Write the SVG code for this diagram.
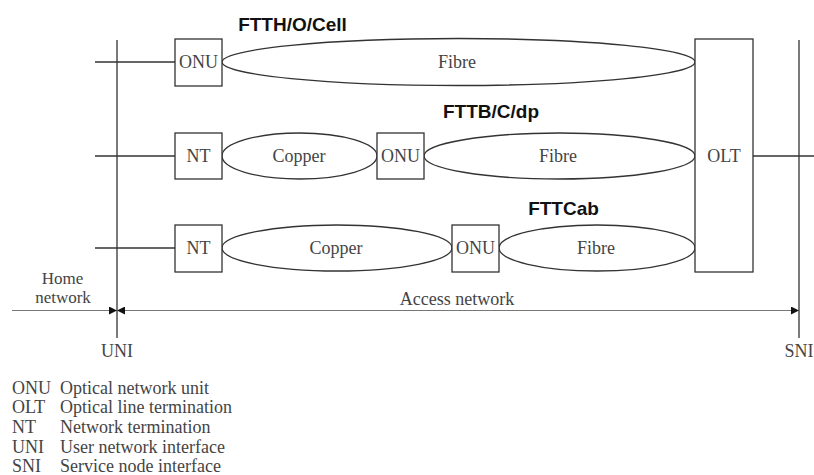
<svg xmlns="http://www.w3.org/2000/svg" width="814" height="475" viewBox="0 0 814 475">
<style>
.ln{stroke:#333;stroke-width:1.3;fill:none}
.bx{stroke:#333;stroke-width:1.3;fill:#fff}
.el{stroke:#333;stroke-width:1.3;fill:#fff}
.t{font-family:"Liberation Serif",serif;font-size:18px;fill:#444;text-anchor:middle}
.tl{font-family:"Liberation Serif",serif;font-size:18px;fill:#444}
.b{font-family:"Liberation Sans",Arial,sans-serif;font-size:19px;font-weight:bold;fill:#111;text-anchor:middle}
.ar{stroke:#777;stroke-width:1.2;fill:none}
</style>
<defs>
<marker id="ah" viewBox="0 0 10 10" refX="10" refY="5" markerWidth="9" markerHeight="8" markerUnits="userSpaceOnUse" orient="auto-start-reverse">
<path d="M0,0 L10,5 L0,10 z" fill="#111"/>
</marker>
</defs>
<rect width="814" height="475" fill="#fff"/>
<g id="connectors">
<line class="ln" x1="117" y1="40" x2="117" y2="338"/>
<line class="ln" x1="799" y1="40" x2="799" y2="338"/>
<line class="ln" x1="95" y1="62" x2="175" y2="62"/>
<line class="ln" x1="95" y1="156" x2="175" y2="156"/>
<line class="ln" x1="95" y1="248" x2="175" y2="248"/>
<line class="ln" x1="753" y1="156" x2="814" y2="156"/>
<line class="ar" x1="12" y1="310.5" x2="117" y2="310.5" marker-end="url(#ah)"/>
<line class="ar" x1="117" y1="310.5" x2="799" y2="310.5" marker-start="url(#ah)" marker-end="url(#ah)"/>
</g>
<g id="fibre1"><ellipse class="el" cx="458.5" cy="62" rx="236.5" ry="23.5"/><text class="t" x="457" y="68">Fibre</text></g>
<g id="copper2"><ellipse class="el" cx="299.5" cy="156" rx="77.5" ry="23"/><text class="t" x="299" y="162">Copper</text></g>
<g id="fibre2"><ellipse class="el" cx="559.5" cy="156" rx="135.5" ry="23"/><text class="t" x="558" y="162">Fibre</text></g>
<g id="copper3"><ellipse class="el" cx="337" cy="248" rx="115" ry="23"/><text class="t" x="336" y="254">Copper</text></g>
<g id="fibre3"><ellipse class="el" cx="597" cy="248" rx="98" ry="23"/><text class="t" x="596" y="254">Fibre</text></g>
<g id="onu1"><rect class="bx" x="175" y="39" width="47" height="47"/><text class="t" x="198.5" y="68">ONU</text></g>
<g id="nt2"><rect class="bx" x="175" y="133" width="47" height="46"/><text class="t" x="198.5" y="162">NT</text></g>
<g id="onu2"><rect class="bx" x="377" y="133" width="47" height="46"/><text class="t" x="400.5" y="162">ONU</text></g>
<g id="nt3"><rect class="bx" x="175" y="225" width="47" height="47"/><text class="t" x="198.5" y="254">NT</text></g>
<g id="onu3"><rect class="bx" x="452" y="225" width="47" height="47"/><text class="t" x="475.5" y="254">ONU</text></g>
<g id="olt"><rect class="bx" x="695" y="39" width="58" height="233"/><text class="t" x="724" y="162">OLT</text></g>
<g id="labels">
<text class="b" x="292.5" y="31">FTTH/O/Cell</text>
<text class="b" x="491" y="118">FTTB/C/dp</text>
<text class="b" x="563.5" y="215">FTTCab</text>
<text class="t" x="62.5" y="284" style="font-size:17px">Home</text>
<text class="t" x="63" y="303" style="font-size:17px">network</text>
<text class="t" x="457" y="305">Access network</text>
<text class="t" x="117" y="357">UNI</text>
<text class="t" x="799" y="357">SNI</text>
</g>
<g id="legend">
<text class="tl" x="12" y="394">ONU</text><text class="tl" x="60" y="394">Optical network unit</text>
<text class="tl" x="12" y="413">OLT</text><text class="tl" x="60" y="413">Optical line termination</text>
<text class="tl" x="12" y="433">NT</text><text class="tl" x="60" y="433">Network termination</text>
<text class="tl" x="12" y="453">UNI</text><text class="tl" x="60" y="453">User network interface</text>
<text class="tl" x="12" y="472">SNI</text><text class="tl" x="60" y="472">Service node interface</text>
</g>
</svg>
